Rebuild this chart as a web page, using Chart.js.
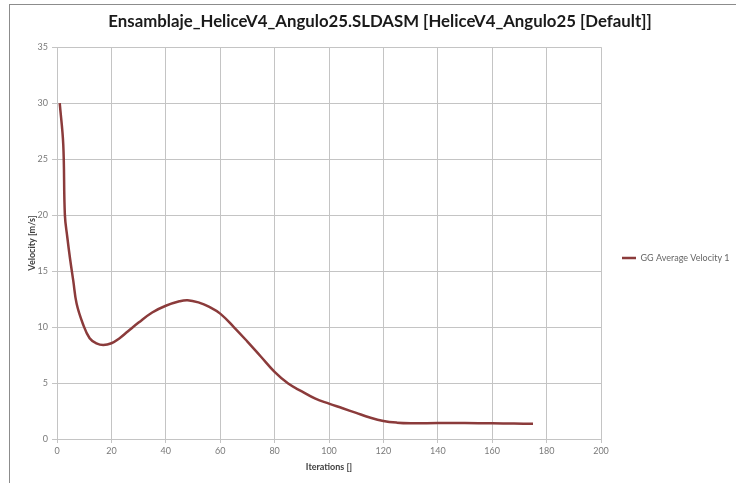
<!DOCTYPE html>
<html lang="es">
<head>
    <meta charset="UTF-8">
    <title>Ensamblaje_HeliceV4_Angulo25</title>
    <script src="https://cdn.jsdelivr.net/npm/chart.js"></script>
    <style>
        html, body { margin: 0; padding: 0; background: #fff; overflow: hidden; }
        body { width: 736px; height: 483px; position: relative; }
        /* marco gris del grafico (se sale por la derecha y por abajo) */
        .frame {
            position: absolute; left: 9px; top: 4px;
            width: 900px; height: 700px;
            border: 1px solid #8c8c8c;
        }
        #chart { position: absolute; left: 0; top: 0; }
    </style>
</head>
<body>
    <div class="frame"></div>
    <canvas id="chart"></canvas>

    <script>
        // Datos
        const chartTitle = 'Ensamblaje_HeliceV4_Angulo25.SLDASM [HeliceV4_Angulo25 [Default]]';
        const seriesLabel = 'GG Average Velocity 1';
        const iterations = [1, 2.3, 2.9, 3.8, 4.8, 6, 7.2, 9.5, 12, 14.5, 17, 20, 23, 26, 30, 35, 40, 45, 48, 52,
                            56, 60, 65, 70, 75, 80, 85, 90, 95, 100, 105, 110, 115, 120, 125, 130,
                            140, 150, 160, 168, 175];
        const velocity = [30.0, 26.3, 20.0, 18.0, 16.1, 14.1, 12.1, 10.3, 9.0, 8.55, 8.4, 8.55, 9.0, 9.6, 10.4,
                          11.3, 11.9, 12.3, 12.4, 12.2, 11.8, 11.2, 10.0, 8.7, 7.35, 6.0, 4.95, 4.25, 3.6,
                          3.16, 2.75, 2.33, 1.92, 1.61, 1.46, 1.41, 1.42, 1.42, 1.4, 1.38, 1.36];
        const xTicks = [0, 20, 40, 60, 80, 100, 120, 140, 160, 180, 200];
        const yTicks = [0, 5, 10, 15, 20, 25, 30, 35];

        const FONT = 'Lato';
        const lineColor = '#8b3b3b';
        const gridColor = '#c4c4c4';

        // zona de trazado buscada (px)
        const plotLeft = 57, plotRight = 601, plotBottom = 439;
        const canvasH = 516;

        // ancho de la leyenda de Chart.js -> padding para centrar el titulo en x=380
        const legendPad = 21, legendBox = 14, legendFont = 9;
        const m = document.createElement('canvas').getContext('2d');
        m.font = legendFont + 'px ' + FONT;
        const legendW = legendPad + legendBox + legendFont / 2 + m.measureText(seriesLabel).width + 10;
        const padLeft = 760 - plotRight - legendW;
        const canvasW = Math.max(736, Math.ceil(plotRight + legendW));
        const padRight = canvasW - plotRight - legendW;

        const canvas = document.getElementById('chart');
        canvas.width = canvasW;
        canvas.height = canvasH;

        new Chart(canvas.getContext('2d'), {
            type: 'line',
            data: {
                datasets: [{
                    label: seriesLabel,
                    data: iterations.map((x, i) => ({ x: x, y: velocity[i] })),
                    borderColor: lineColor,
                    backgroundColor: lineColor,
                    borderWidth: 2.5,
                    pointRadius: 0,
                    tension: 0.4
                }]
            },
            options: {
                responsive: false,
                animation: false,
                layout: { padding: { left: padLeft, right: padRight, top: 0, bottom: 0 } },
                plugins: {
                    title: {
                        display: true,
                        text: chartTitle,
                        color: '#1a1a1a',
                        font: { family: FONT, size: 16.8, weight: 'bold' },
                        padding: { top: 12, bottom: 15 }
                    },
                    legend: {
                        position: 'right',
                        labels: {
                            padding: legendPad,
                            boxWidth: legendBox,
                            boxHeight: 0,
                            color: '#666',
                            font: { family: FONT, size: legendFont }
                        }
                    },
                    tooltip: { enabled: false }
                },
                scales: {
                    x: {
                        type: 'linear',
                        min: xTicks[0],
                        max: xTicks[xTicks.length - 1],
                        afterBuildTicks: s => { s.ticks = xTicks.map(v => ({ value: v })); },
                        grid: { color: gridColor, tickLength: 4 },
                        border: { color: gridColor },
                        ticks: { color: '#7a7a7a', padding: 3, maxRotation: 0, font: { family: FONT, size: 9 } },
                        title: {
                            display: true,
                            text: 'Iterations []',
                            color: '#404040',
                            font: { family: FONT, size: 9, weight: 'bold' },
                            padding: { top: 0, bottom: canvasH - 467 - 5.4 }
                        },
                        afterFit: s => { s.height = canvasH - plotBottom; }
                    },
                    y: {
                        min: yTicks[0],
                        max: yTicks[yTicks.length - 1],
                        afterBuildTicks: s => { s.ticks = yTicks.map(v => ({ value: v })); },
                        grid: { color: gridColor, tickLength: 5 },
                        border: { color: gridColor },
                        ticks: { color: '#7a7a7a', padding: 4, font: { family: FONT, size: 9 } },
                        title: {
                            display: true,
                            text: 'Velocity [m/s]',
                            color: '#404040',
                            font: { family: FONT, size: 9, weight: 'bold' },
                            padding: { top: 32 - 5.4 - padLeft, bottom: 0 }
                        },
                        afterFit: s => { s.width = plotLeft - padLeft; }
                    }
                }
            }
        });
    </script>
</body>
</html>
